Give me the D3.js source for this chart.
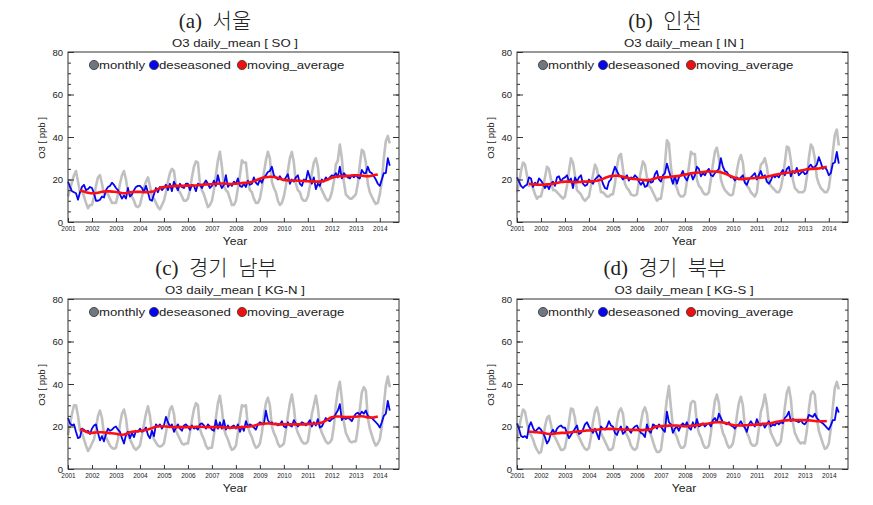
<!DOCTYPE html>
<html><head><meta charset="utf-8">
<script src="https://cdn.jsdelivr.net/npm/d3@7"></script>
<style>body{margin:0;background:#fff}svg{display:block}</style>
</head><body>
<svg id="chart" width="873" height="505"></svg>
<script>
// ---------- data ----------
const startYear = 2001;          // first month = Jan 2001, monthly step
const movStartIndex = 6;         // moving average starts Jul 2001
const yearTicks = [2001,2002,2003,2004,2005,2006,2007,2008,2009,2010,2011,2012,2013,2014];
const yTicks = [0,20,40,60,80];
const yMinorTicks = [0,5,10,15,20,25,30,35,40,45,50,55,60,65,70,75,80];
const legendLabels = ["monthly","deseasoned","moving_average"];
const panelTitles = ["(a)  서울","(b)  인천","(c)  경기  남부","(d)  경기  북부"];
const stationCodes = ["SO","IN","KG-N","KG-S"];

const soMonthly = [
12,15,19,22,24,19,14,15,12,9,6.5,8,
8,12,17,21,22,18,13,14,13,11,9,9,
9,13,18,22,24,20,14,13,12,10,7.5,7,
8,12,16,19,21,17,12,11,9,7,6,8,
10,14,19,23,25,24,17,15,14,12,10,10,
11,15,21,26,28.5,28,18,15,13,10,7,8,
10,15,22,29,33,26,17,15,14,11,8,8,
10,16,22,29,28,28,19,15,14,11,9,9,
11,16,23,29,33,30,19,16,14,10,8,9,
12,17,24,30,33,28,18,15,14,11,10,10,
12,17,23,28,30,26,17,15,13,11,10,11,
14,19,27,29,36.5,30,19,13,12,11,11,12,
13,18,27,34,33,28,18,14,12,10,8.5,9,
13,19,30,38,40.5,37];
const soDeseasoned = [
19,16.5,14.5,14,13.5,10.5,14,16.5,17.5,15,15.5,16.5,
16,13.5,10,10,10.5,12,11.5,15,16.5,17,18.5,17.5,
16,15,13,11,12.5,11,16,12,13,15,16.5,17,
17,16,14,17,14,10.5,10,13,16,14,16.5,15,
16,17.5,15,18,14.5,19,17,15,18,16.5,16,18,
18,15,17.5,17,14.5,18,17.5,16,18,19.5,18,16,
17,19.5,17,22,18,16,17.5,22,16.5,18,17,19,
18,20.5,17,16.5,18,16.5,19.5,17.5,18,21,18.5,17.5,
20,18.5,21,22,23.5,24,26,22,21,20,21.5,20,
19.5,21,22.5,18,20,19,21,22,18,17,20,19.5,
24,21,18,21,15.5,18,17,20,19,21,20,21,
22,21.5,23,21,26,20.5,23,22,21,20.5,22,21,
22,21,20.5,24.5,23,23,26,23.5,23,21.5,20,18,
17,20,23,23,30,26.5];
const soMovingAvg = [
15,14.6,14.3,14,13.8,13.6,
13.5,13.5,13.6,13.8,14,14.2,14.3,14.4,14.4,14.4,14.3,14.2,
14.1,14,13.8,13.6,13.5,13.6,13.8,14,14.1,14.2,14.2,14.2,
14.2,14.1,14,14,14,14.1,14.3,14.5,15,15.5,16,16.3,
16.5,16.6,16.7,16.8,16.8,16.9,17,17,17,17,17,17.1,
17.1,17.1,17.2,17.2,17.2,17.3,17.4,17.5,17.6,17.7,17.7,17.8,
17.8,17.9,18,18,18.1,18.1,18.1,18,18,17.9,17.9,18,
18,18.1,18.2,18.3,18.4,18.5,18.6,18.7,18.9,19.2,19.6,20,
20.4,20.7,20.9,21.1,21.2,21.3,21.3,21.2,21,20.7,20.4,20.1,
19.9,19.7,19.6,19.5,19.5,19.5,19.5,19.4,19.4,19.3,19.3,19.2,
19.2,19.1,19.1,19,19,19,19,19.1,19.3,19.6,20,20.4,
20.8,21.1,21.3,21.4,21.5,21.5,21.6,21.6,21.7,21.8,21.9,22,
22,22,21.9,21.8,21.7,21.6,21.5,21.6,21.8,22,22.2,22.4];

const inMonthly = [
14,18,24,28,27,22,17,18,16,13,11,12,
12,16,21,26,25,20,15,15,14,13,12,11,
12,17,24,30,28,22,15,14,13,11,10,11,
12,17,22,27,25,19,14,14,13,12,12,13,
13,18,26,31,32,25,18,16,15,13,12.5,12.5,
13,19,24,28.5,27,21,17,16,14,12,10,11,
11,17,27,38.5,37,26,19,18,16,13,12,12,
13,19,26,33,32,32,20,17,16,14,13,13,
14,20,27,33,35,30,20,17,15,14,13,12.5,
13,18,24,29,31.5,28,19,17,16,14,13,12,
14,22,27,28,30,26,19,17,16,15,14,14,
16,21,28,35.5,35,29,20,16,15,14,14,14,
15,21,30,36.5,35,30,21,18,16,15,14,14,
16,23,33,41,43.5,36];
const inDeseasoned = [
21,19,17,16,17,17.5,21,20.5,16.5,18.5,17.5,20.5,
19.5,18,16,17.5,15.5,18,19,17,21,21.5,19,20.5,
21,22,19,20.5,16,21,19,21,22,18,17,17.5,
20,19,18,20,21,22,21,18,16,15.5,19,20,
23,26,24,22,21.5,20,21,22,19.5,21,20.5,22,
21,19,17.5,19,16.5,17,20,18.5,19,22.5,24,20,
19,22,23,27.5,24,21,18,21.5,18,21,22,24,
21,19.5,22,23,20,22,26,25,21.5,23,22,24,
25,22,21.5,23,24,25,30,26,24,23.5,22,21,
21,19.5,21,20,21,22,18.5,17.5,20,21,22,23,
20,22,24,21,22,19,18,19.5,22,21,22,21,
23,24.5,22,25,26,21.5,24,23,25.5,22,23,24,
22.5,23,26,27,25.5,26,27,30.5,28,25,26,24.5,
22,23,27.5,28,33,27.5];
const inMovingAvg = [
18,17.9,17.8,17.7,17.6,17.5,
17.5,17.5,17.6,17.7,17.8,17.9,18,18.2,18.4,18.6,18.8,18.9,
19,19,19,18.9,18.8,18.7,18.7,18.8,18.9,19,19,19,
19,19.1,19.2,19.3,19.4,19.6,19.9,20.3,20.7,21.1,21.4,21.6,
21.7,21.8,21.8,21.7,21.5,21.3,21,20.8,20.6,20.4,20.3,20.2,
20.1,20,19.9,19.8,19.7,19.6,19.7,19.9,20.2,20.5,20.8,21,
21,21,21,21.1,21.2,21.3,21.4,21.5,21.6,21.7,21.9,22.1,
22.3,22.5,22.7,22.9,23,23.1,23.2,23.3,23.4,23.5,23.6,23.7,
23.8,23.8,23.8,23.8,23.7,23.6,23.4,23.1,22.8,22.4,22,21.6,
21.2,20.8,20.5,20.3,20.2,20.2,20.3,20.4,20.5,20.6,20.6,20.7,
20.7,20.8,20.9,21,21.1,21.3,21.5,21.7,22,22.2,22.4,22.6,
22.7,22.9,23,23.2,23.3,23.5,23.6,23.7,23.8,24,24.2,24.4,
24.6,24.8,24.9,25,25,25.1,25.1,25.2,25.4,25.6,25.8,26];

const kgnMonthly = [
16,21,26,30,30,25,18,17,14,11,8.5,10,
12,14,19,25,27.5,24,16,15,13,11,10,9.5,
10,14,21,26,28,24,16,14,12,10,9,10,
11,16,21,26,29.5,25,17,14,12.5,11,10.5,11,
12,17,23,28,29.5,26,18,16,14,12,11.5,12,
12,17,23,28,31,30,19,16,14,11,9.5,10,
10,16,24,31,34.5,28,19,16,14,11,9,9.5,
11,17,24,30,29.5,30,20,17,15,12,10,10.5,
12,17,25,31,33.5,30,20,17,15,12,10.5,11,
12,18,25,31,35,29,20,17,15,13,12,12,
13,19,26,30,34.5,29,20,17,15,13,12,12.5,
14,20,30,37,41,33,22,17,15,13,12.5,13,
13,19,28,36,38.5,37,24,19,16,13,11,12,
14,20,30,39,43.5,38.5];
const kgnDeseasoned = [
24,21.5,20.5,21,17.5,14.5,15,19,18.5,17.5,18,16.5,
19,20.5,21,17,13.5,15.5,13,16.5,19,18,18.5,19.5,
20,18.5,17.5,14.5,12,16,17.5,14.5,17,15,18,17.5,
19,17.5,18,19.5,16,14.5,18,15.5,21,20,21,19,
20.5,24.5,22,20,21,17.5,19.5,21,19,18,20.5,21,
20,18.5,20.5,19,19.5,18.5,21,21.5,20.5,19,21,20,
18.5,18,23,19,22,19,23,18.5,20.5,19,20,20.5,
19,21,17.5,20,18,22.5,20,21,20.5,19.5,18.5,21,
22,21.5,21,27.5,23,21.5,22,21,21.5,20.5,21,22.5,
20,19.5,22,20.5,20,23,21.5,20,21,22,21.5,20.5,
21.5,23,20,22,20.5,23.5,19.5,20,22,24,23,22.5,
23.5,24,26,27.5,30.5,23,24.5,23.5,24,23.5,22.5,24.5,
26,26.5,25.5,27,26,27.5,25,24.5,24,23,22,21,
19.5,22,25,26,32,27.5];
const kgnMovingAvg = [
18.7,18.4,18,17.6,17.2,17,
17,17.1,17.2,17.3,17.3,17.3,17.2,17.1,17,16.9,16.8,16.7,
16.6,16.4,16.2,16.1,16.2,16.5,16.9,17.3,17.5,17.6,17.7,17.8,
17.9,18,18.2,18.4,18.6,18.9,19.2,19.6,19.9,20,20.1,20.1,
20.1,20,19.9,19.8,19.8,19.7,19.7,19.7,19.7,19.7,19.7,19.7,
19.7,19.7,19.8,19.8,19.9,19.9,19.9,19.9,19.8,19.8,19.7,19.7,
19.7,19.7,19.7,19.8,19.8,19.7,19.6,19.5,19.4,19.4,19.4,19.5,
19.5,19.6,19.6,19.7,19.8,19.9,20,20,20.1,20.3,20.6,20.9,
21.1,21.2,21.3,21.4,21.4,21.4,21.3,21.2,21.1,21,21,21,
21,21,21,21,21,21,21,21,21,21,21,21.1,
21.1,21.2,21.3,21.3,21.3,21.4,21.6,21.9,22.3,22.8,23.4,24,
24.4,24.6,24.7,24.7,24.7,24.6,24.5,24.4,24.4,24.4,24.5,24.6,
24.6,24.7,24.8,24.8,24.7,24.5,24.3,24.2,24.2,24.3,24.5,24.7];

const kgsMonthly = [
13,19,24,28,27,22,17,16,14,11,9,7.5,
8,13,20,24,25,21,16,15,13,11,9,9,
10,15,22,28.5,28,24,17,15,13,11,9.5,9,
10,15,22,27,29,25,17,15,13,11,9,9,
10,15,22,27,28.5,26,18,16,14,11,9.5,9,
10,15,22,27,29,26,18,16,13,10,8,8,
9,16,25,33,39,29,20,17,15,12,10,10,
11,17,24,31,32,31.5,21,17,15,12,10,10,
11,17,25,32,35,31,21,17,15,12,10,10.5,
12,17,25,31,34,30,20,17,15,12,11,11,
12,19,27,30,35,30,21,17,15,13,11,11.5,
13,20,29,36,38.5,33,22,17,15,13,12,12.5,
12,18,28,35,36.5,35,24,18,15,12,9.5,10,
12,19,29,38,41,37.5];
const kgsDeseasoned = [
21.5,19,15.5,15,15.5,14.5,20,22,19.5,17.5,18.5,19.5,
18.5,17,15,12,13.5,17,18.5,16.5,19,20,20.5,19.5,
19.5,17,14.5,16,17.5,19,20.5,16.5,17,18.5,21,22,
20,18.5,17,19,16.5,14,20,19,18.5,20,22.5,20.5,
20,17,16,18.5,20,16.5,17.5,20,18.5,17,19,20,
20.5,18.5,17,16.5,15,21,18,17,21,20.5,19,21,
20,18.5,17.5,27,22,21,17,19,20,18,20.5,21.5,
20,22,19.5,18.5,22,19.5,23.5,20,20.5,21.5,20,21,
21.5,20,23,24,22,26,24,22,21.5,21,22,20.5,
20,19,20.5,21,22.5,20.5,19.5,17.5,21,22.5,21,20,
23.5,21,20.5,21.5,19.5,21,22.5,20,21,20.5,22,21,
22,21.5,24,25,27,22.5,23.5,23,22.5,22,23,21.5,
21,22.5,25.5,25,24.5,26,24,23,22,21.5,20.5,19.5,
18.5,20.5,23,23,29,26.5];
const kgsMovingAvg = [
17.6,17.5,17.4,17.3,17.3,17.2,
17.1,17,16.8,16.6,16.5,16.5,16.6,16.7,16.8,16.9,17,17,
17,17.1,17.2,17.3,17.4,17.5,17.6,17.7,17.8,17.9,18,18.1,
18.1,18.2,18.3,18.4,18.5,18.6,18.7,18.8,18.8,18.9,18.9,18.9,
18.9,18.8,18.7,18.7,18.6,18.6,18.5,18.5,18.5,18.4,18.4,18.4,
18.4,18.3,18.3,18.3,18.4,18.4,18.5,18.7,19.2,19.8,20.1,20.2,
20.2,20.2,20.3,20.3,20.4,20.4,20.5,20.5,20.4,20.3,20.2,20.1,
20.1,20.1,20.2,20.3,20.4,20.5,20.6,20.8,21,21.1,21.2,21.3,
21.4,21.6,21.8,22,22,22,22,21.9,21.7,21.5,21.2,20.9,
20.7,20.5,20.5,20.5,20.5,20.5,20.6,20.6,20.7,20.7,20.8,20.8,
20.9,21,21.1,21.2,21.3,21.4,21.5,21.6,21.8,22,22.2,22.4,
22.6,22.7,22.8,22.9,23,23,23,23,23,23,23,23,
23,23,22.9,22.8,22.7,22.6,22.5,22.5,22.5,22.5,22.5,22.6];

// ---------- layout ----------
const W = 331, H = 170;
const panels = [
  {title: panelTitles[0], code: stationCodes[0], monthly: soMonthly,  des: soDeseasoned,  mov: soMovingAvg,  left: 68,  top: 52,  tx: 215, ty: 28},
  {title: panelTitles[1], code: stationCodes[1], monthly: inMonthly,  des: inDeseasoned,  mov: inMovingAvg,  left: 517, top: 52,  tx: 665, ty: 28},
  {title: panelTitles[2], code: stationCodes[2], monthly: kgnMonthly, des: kgnDeseasoned, mov: kgnMovingAvg, left: 68,  top: 299, tx: 216, ty: 275},
  {title: panelTitles[3], code: stationCodes[3], monthly: kgsMonthly, des: kgsDeseasoned, mov: kgsMovingAvg, left: 517, top: 299, tx: 665, ty: 275}
];

const svg = d3.select("#chart");
const SANS = "'Liberation Sans', Arial, Helvetica, sans-serif";
const tOf = i => startYear + i / 12;

panels.forEach(p => {
  const g = svg.append("g");
  const x = d3.scaleLinear().domain([2001, 2014.8]).range([p.left, p.left + W]);
  const y = d3.scaleLinear().domain([0, 80]).range([p.top + H, p.top]);

  // panel heading
  g.append("text").attr("x", p.tx).attr("y", p.ty)
    .attr("text-anchor", "middle").style("white-space", "pre")
    .attr("font-family", "'Liberation Serif', 'Noto Sans CJK KR', serif")
    .attr("font-size", 21).attr("font-weight", 300).attr("fill", "#222").text(p.title);

  // subtitle
  g.append("text")
    .attr("transform", `translate(${p.left + 167},${p.top - 5}) scale(1.2,1)`)
    .attr("text-anchor", "middle").attr("font-family", SANS).attr("font-size", 11)
    .attr("fill", "#222").text(`O3 daily_mean [ ${p.code} ]`);

  // lines
  const line = d3.line().x(d => x(d.t)).y(d => y(d.v));
  const grayData = p.monthly.map((v, i) => ({t: tOf(i), v}));
  const blueData = p.des.map((v, i) => ({t: tOf(i), v}));
  const redData = p.mov.map((v, i) => ({t: tOf(i + movStartIndex), v}));
  g.append("path").datum(grayData).attr("d", line).attr("fill", "none")
    .attr("stroke", "#c0c0c0").attr("stroke-width", 2.6).attr("stroke-linejoin", "round");
  g.append("path").datum(blueData).attr("d", line).attr("fill", "none")
    .attr("stroke", "#0505f0").attr("stroke-width", 1.8).attr("stroke-linejoin", "round");
  g.append("path").datum(redData).attr("d", line).attr("fill", "none")
    .attr("stroke", "#ff1010").attr("stroke-width", 2.6).attr("stroke-linejoin", "round");

  // axes
  const styleAxis = sel => {
    sel.select(".domain").remove();
    sel.selectAll("line").attr("stroke", "#333");
    sel.selectAll("text").attr("font-family", SANS).attr("fill", "#222");
  };
  g.append("g").attr("transform", `translate(${p.left},0)`)
    .call(d3.axisLeft(y).tickValues(yMinorTicks).tickSize(-3).tickFormat(""))
    .call(styleAxis);
  g.append("g").attr("transform", `translate(${p.left},0)`)
    .call(d3.axisLeft(y).tickValues(yTicks).tickSize(-6).tickPadding(5))
    .call(styleAxis).selectAll("text").attr("font-size", 9.5);
  g.append("g").attr("transform", `translate(${p.left + W},0)`)
    .call(d3.axisRight(y).tickValues(yMinorTicks).tickSize(-3).tickFormat(""))
    .call(styleAxis);
  g.append("g").attr("transform", `translate(${p.left + W},0)`)
    .call(d3.axisRight(y).tickValues(yTicks).tickSize(-6).tickFormat(""))
    .call(styleAxis);
  g.append("g").attr("transform", `translate(0,${p.top + H})`)
    .call(d3.axisBottom(x).tickValues(yearTicks).tickSize(-4).tickPadding(4).tickFormat(d3.format("d")))
    .call(styleAxis).selectAll("text").attr("font-size", 6.5);

  // frame
  g.append("rect").attr("x", p.left).attr("y", p.top).attr("width", W).attr("height", H)
    .attr("fill", "none").attr("stroke", "#333").attr("stroke-width", 1);

  // axis titles
  g.append("text").attr("transform", `translate(${p.left + 167},${p.top + H + 23}) scale(1.1,1)`)
    .attr("text-anchor", "middle").attr("font-family", SANS).attr("font-size", 11)
    .attr("fill", "#222").text("Year");
  g.append("text").attr("transform", `translate(${p.left - 23},${p.top + 86}) rotate(-90)`)
    .attr("text-anchor", "middle").attr("font-family", SANS).attr("font-size", 9.5)
    .attr("fill", "#222").text("O3 [ ppb ]");

  // legend
  const legColors = ["#6e7680", "#0505f0", "#ee1010"];
  const legOff = [26, 86, 174];
  legendLabels.forEach((lab, k) => {
    g.append("circle").attr("cx", p.left + legOff[k]).attr("cy", p.top + 13).attr("r", 4.6)
      .attr("fill", legColors[k]).attr("stroke", "#333").attr("stroke-width", 0.8);
    g.append("text").attr("transform", `translate(${p.left + legOff[k] + 5},${p.top + 17}) scale(1.2,1)`)
      .attr("font-family", SANS).attr("font-size", 11).attr("fill", "#222").text(lab);
  });
});
</script>
</body></html>
